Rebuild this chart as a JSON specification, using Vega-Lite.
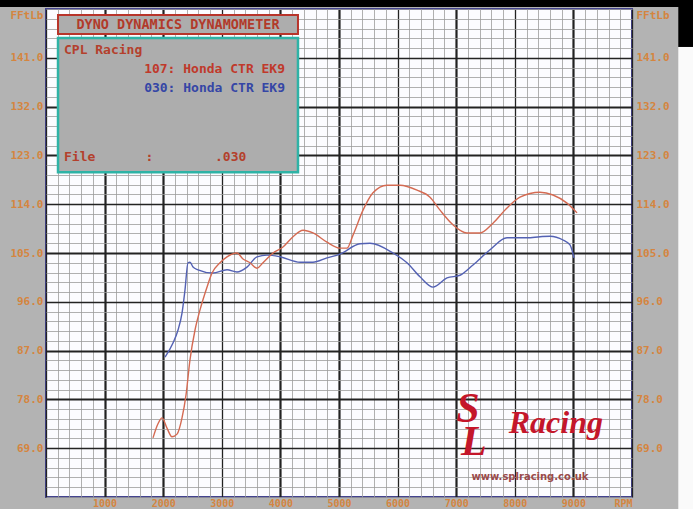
{
  "$schema": "https://vega.github.io/schema/vega-lite/v6.json",
  "width": 586,
  "height": 488,
  "autosize": {"type": "none"},
  "padding": {"left": 46, "top": 9, "right": 61, "bottom": 12},
  "background": "#b3b3b3",
  "config": {
    "view": {"fill": "#fcfcff", "stroke": "#43438f", "strokeWidth": 2},
    "axis": {"domain": false, "ticks": false, "labelFont": "DejaVu Sans Mono", "labelFontWeight": "bold", "labelFontSize": 11, "labelColor": "#d5853f", "title": null, "labelOverlap": false, "labelFlush": false}
  },
  "datasets": {
    "curves": [
      {"rpm": 2031, "tq": 85.8, "run": "030"},
      {"rpm": 2167, "tq": 88.4, "run": "030"},
      {"rpm": 2253, "tq": 90.8, "run": "030"},
      {"rpm": 2321, "tq": 93.9, "run": "030"},
      {"rpm": 2372, "tq": 98.2, "run": "030"},
      {"rpm": 2423, "tq": 103.2, "run": "030"},
      {"rpm": 2457, "tq": 103.3, "run": "030"},
      {"rpm": 2509, "tq": 102.4, "run": "030"},
      {"rpm": 2594, "tq": 101.9, "run": "030"},
      {"rpm": 2850, "tq": 101.3, "run": "030"},
      {"rpm": 3089, "tq": 101.9, "run": "030"},
      {"rpm": 3259, "tq": 101.5, "run": "030"},
      {"rpm": 3430, "tq": 102.4, "run": "030"},
      {"rpm": 3601, "tq": 104.3, "run": "030"},
      {"rpm": 3771, "tq": 104.6, "run": "030"},
      {"rpm": 3993, "tq": 104.3, "run": "030"},
      {"rpm": 4335, "tq": 103.3, "run": "030"},
      {"rpm": 4556, "tq": 103.3, "run": "030"},
      {"rpm": 4795, "tq": 104.1, "run": "030"},
      {"rpm": 5017, "tq": 104.8, "run": "030"},
      {"rpm": 5358, "tq": 106.7, "run": "030"},
      {"rpm": 5529, "tq": 106.8, "run": "030"},
      {"rpm": 5922, "tq": 105.0, "run": "030"},
      {"rpm": 6160, "tq": 103.2, "run": "030"},
      {"rpm": 6382, "tq": 100.6, "run": "030"},
      {"rpm": 6604, "tq": 98.7, "run": "030"},
      {"rpm": 6843, "tq": 100.4, "run": "030"},
      {"rpm": 7065, "tq": 100.9, "run": "030"},
      {"rpm": 7287, "tq": 102.8, "run": "030"},
      {"rpm": 7577, "tq": 105.6, "run": "030"},
      {"rpm": 7867, "tq": 107.8, "run": "030"},
      {"rpm": 8208, "tq": 107.8, "run": "030"},
      {"rpm": 8430, "tq": 108.0, "run": "030"},
      {"rpm": 8601, "tq": 108.1, "run": "030"},
      {"rpm": 8823, "tq": 107.4, "run": "030"},
      {"rpm": 8942, "tq": 106.5, "run": "030"},
      {"rpm": 9010, "tq": 104.1, "run": "030"},
      {"rpm": 1826, "tq": 70.9, "run": "107"},
      {"rpm": 1911, "tq": 73.5, "run": "107"},
      {"rpm": 1980, "tq": 74.6, "run": "107"},
      {"rpm": 2065, "tq": 72.7, "run": "107"},
      {"rpm": 2150, "tq": 71.1, "run": "107"},
      {"rpm": 2236, "tq": 71.6, "run": "107"},
      {"rpm": 2321, "tq": 74.6, "run": "107"},
      {"rpm": 2389, "tq": 78.8, "run": "107"},
      {"rpm": 2457, "tq": 85.3, "run": "107"},
      {"rpm": 2543, "tq": 90.8, "run": "107"},
      {"rpm": 2628, "tq": 94.5, "run": "107"},
      {"rpm": 2747, "tq": 98.7, "run": "107"},
      {"rpm": 2833, "tq": 101.3, "run": "107"},
      {"rpm": 2969, "tq": 103.2, "run": "107"},
      {"rpm": 3089, "tq": 104.3, "run": "107"},
      {"rpm": 3259, "tq": 105.0, "run": "107"},
      {"rpm": 3362, "tq": 103.9, "run": "107"},
      {"rpm": 3481, "tq": 103.2, "run": "107"},
      {"rpm": 3601, "tq": 102.2, "run": "107"},
      {"rpm": 3703, "tq": 103.2, "run": "107"},
      {"rpm": 3874, "tq": 105.0, "run": "107"},
      {"rpm": 4044, "tq": 106.1, "run": "107"},
      {"rpm": 4215, "tq": 108.0, "run": "107"},
      {"rpm": 4386, "tq": 109.2, "run": "107"},
      {"rpm": 4556, "tq": 108.7, "run": "107"},
      {"rpm": 4795, "tq": 107.0, "run": "107"},
      {"rpm": 5017, "tq": 105.9, "run": "107"},
      {"rpm": 5136, "tq": 105.9, "run": "107"},
      {"rpm": 5239, "tq": 108.3, "run": "107"},
      {"rpm": 5410, "tq": 112.9, "run": "107"},
      {"rpm": 5580, "tq": 116.1, "run": "107"},
      {"rpm": 5819, "tq": 117.5, "run": "107"},
      {"rpm": 6041, "tq": 117.5, "run": "107"},
      {"rpm": 6331, "tq": 116.6, "run": "107"},
      {"rpm": 6553, "tq": 115.3, "run": "107"},
      {"rpm": 6724, "tq": 112.9, "run": "107"},
      {"rpm": 6945, "tq": 110.2, "run": "107"},
      {"rpm": 7184, "tq": 108.7, "run": "107"},
      {"rpm": 7406, "tq": 108.7, "run": "107"},
      {"rpm": 7628, "tq": 110.5, "run": "107"},
      {"rpm": 7867, "tq": 113.3, "run": "107"},
      {"rpm": 8089, "tq": 115.3, "run": "107"},
      {"rpm": 8430, "tq": 116.2, "run": "107"},
      {"rpm": 8652, "tq": 115.7, "run": "107"},
      {"rpm": 8891, "tq": 114.2, "run": "107"},
      {"rpm": 9062, "tq": 112.4, "run": "107"}
    ]
  },
  "layer": [
    {
      "data": {"values": [{"x1": -800, "x2": 11100, "y1": 150.35, "y2": 152}, {"x1": 10790, "x2": 11100, "y1": 143, "y2": 152}]},
      "mark": {"type": "rect", "color": "#000000"},
      "encoding": {
        "x": {"field": "x1", "type": "quantitative", "scale": {"domain": [0, 10000], "nice": false, "zero": false},
          "axis": {
            "values": [0,200,400,600,800,1000,1200,1400,1600,1800,2000,2200,2400,2600,2800,3000,3200,3400,3600,3800,4000,4200,4400,4600,4800,5000,5200,5400,5600,5800,6000,6200,6400,6600,6800,7000,7200,7400,7600,7800,8000,8200,8400,8600,8800,9000,9200,9400,9600,9800,10000],
            "grid": true,
            "gridColor": {"condition": {"test": "datum.value % 1000 == 0", "value": "#222222"}, "value": "#9c9c9c"},
            "gridWidth": {"condition": [{"test": "indexof([1000,2000,4000,5000,7000,9000], datum.value) >= 0", "value": 2.2}, {"test": "datum.value % 1000 == 0", "value": 1.3}], "value": 0.8},
            "labelExpr": "datum.value == 10000 ? 'RPM' : (datum.value > 0 && datum.value % 1000 == 0 ? format(datum.value, 'd') : '')",
            "labelAlign": {"condition": {"test": "datum.value == 10000", "value": "right"}, "value": "center"},
            "labelPadding": 1,
            "labelFontSize": 10
          }
        },
        "x2": {"field": "x2"},
        "y": {"field": "y1", "type": "quantitative", "scale": {"domain": [60, 150], "nice": false, "zero": false},
          "axis": {
            "orient": "left",
            "values": [60,61.8,63.6,65.4,67.2,69,70.8,72.6,74.4,76.2,78,79.8,81.6,83.4,85.2,87,88.8,90.6,92.4,94.2,96,97.8,99.6,101.4,103.2,105,106.8,108.6,110.4,112.2,114,115.8,117.6,119.4,121.2,123,124.8,126.6,128.4,130.2,132,133.8,135.6,137.4,139.2,141,142.8,144.6,146.4,148.2,150],
            "grid": true,
            "gridColor": {"condition": {"test": "indexof([69,78,87,96,105,114,123,132,141], datum.value) >= 0", "value": "#222222"}, "value": "#9c9c9c"},
            "gridWidth": {"condition": [{"test": "indexof([78,87,105,123,132], datum.value) >= 0", "value": 2.2}, {"test": "indexof([69,96,114,141], datum.value) >= 0", "value": 1.3}], "value": 0.8},
            "labelExpr": "datum.value == 150 ? 'FFtLb' : (indexof([69,78,87,96,105,114,123,132,141], datum.value) >= 0 ? format(datum.value, '.1f') : '')",
            "labelBaseline": {"condition": {"test": "datum.value == 150", "value": "top"}, "value": "middle"},
            "labelPadding": 3
          }
        },
        "y2": {"field": "y2"}
      }
    },
    {
      "data": {"values": [{"x1": 10790, "x2": 11100, "y1": 57, "y2": 143}]},
      "mark": {"type": "rect", "color": "#fafafa"},
      "encoding": {
        "x": {"field": "x1", "type": "quantitative", "axis": null},
        "x2": {"field": "x2"},
        "y": {"field": "y1", "type": "quantitative",
          "axis": {
            "orient": "right",
            "values": [69,78,87,96,105,114,123,132,141,150],
            "grid": false,
            "labelExpr": "datum.value == 150 ? 'FFtLb' : format(datum.value, '.1f')",
            "labelBaseline": {"condition": {"test": "datum.value == 150", "value": "top"}, "value": "middle"},
            "labelPadding": 4
          }
        },
        "y2": {"field": "y2"}
      }
    },
    {
      "data": {"values": [{"x1": 205, "x2": 4300, "y1": 145.4, "y2": 148.9}]},
      "mark": {"type": "rect", "fill": "#adadad", "stroke": "#b8342a", "strokeWidth": 2},
      "encoding": {"x": {"field": "x1", "type": "quantitative", "axis": null}, "x2": {"field": "x2"}, "y": {"field": "y1", "type": "quantitative", "axis": null}, "y2": {"field": "y2"}}
    },
    {
      "data": {"values": [{"x1": 205, "x2": 4300, "y1": 119.9, "y2": 144.65}]},
      "mark": {"type": "rect", "fill": "#adadad", "stroke": "#2fb3a6", "strokeWidth": 2.5},
      "encoding": {"x": {"field": "x1", "type": "quantitative", "axis": null}, "x2": {"field": "x2"}, "y": {"field": "y1", "type": "quantitative", "axis": null}, "y2": {"field": "y2"}}
    },
    {
      "data": {"values": [{"x": 2253, "y": 147.1, "text": "DYNO DYNAMICS DYNAMOMETER"}]},
      "mark": {"type": "text", "font": "DejaVu Sans Mono", "fontWeight": "bold", "fontSize": 13.5, "color": "#b23a2a", "align": "center", "baseline": "middle"},
      "encoding": {"x": {"field": "x", "type": "quantitative", "axis": null}, "y": {"field": "y", "type": "quantitative", "axis": null}, "text": {"field": "text"}}
    },
    {
      "data": {"values": [
        {"x": 307, "y": 142.4, "text": "CPL Racing"},
        {"x": 307, "y": 122.7, "text": "File"},
        {"x": 1700, "y": 122.7, "text": ":"},
        {"x": 2884, "y": 122.7, "text": ".030"}
      ]},
      "mark": {"type": "text", "font": "DejaVu Sans Mono", "fontWeight": "bold", "fontSize": 13, "color": "#b4402c", "align": "left", "baseline": "middle"},
      "encoding": {"x": {"field": "x", "type": "quantitative", "axis": null}, "y": {"field": "y", "type": "quantitative", "axis": null}, "text": {"field": "text"}}
    },
    {
      "data": {"values": [{"x": 4079, "y": 138.9, "text": "107: Honda CTR EK9"}]},
      "mark": {"type": "text", "font": "DejaVu Sans Mono", "fontWeight": "bold", "fontSize": 13, "color": "#c0392b", "align": "right", "baseline": "middle"},
      "encoding": {"x": {"field": "x", "type": "quantitative", "axis": null}, "y": {"field": "y", "type": "quantitative", "axis": null}, "text": {"field": "text"}}
    },
    {
      "data": {"values": [{"x": 4079, "y": 135.4, "text": "030: Honda CTR EK9"}]},
      "mark": {"type": "text", "font": "DejaVu Sans Mono", "fontWeight": "bold", "fontSize": 13, "color": "#3546a6", "align": "right", "baseline": "middle"},
      "encoding": {"x": {"field": "x", "type": "quantitative", "axis": null}, "y": {"field": "y", "type": "quantitative", "axis": null}, "text": {"field": "text"}}
    },
    {
      "data": {"values": [{"x": 7200, "y": 76.3, "text": "S"}, {"x": 7300, "y": 70.2, "text": "L"}]},
      "mark": {"type": "text", "font": "Liberation Serif", "fontWeight": "bold", "fontStyle": "italic", "fontSize": 42, "color": "#c4162a", "align": "center", "baseline": "middle"},
      "encoding": {"x": {"field": "x", "type": "quantitative", "axis": null}, "y": {"field": "y", "type": "quantitative", "axis": null}, "text": {"field": "text"}}
    },
    {
      "data": {"values": [{"x": 8700, "y": 73.6, "text": "Racing"}]},
      "mark": {"type": "text", "font": "Liberation Serif", "fontWeight": "bold", "fontStyle": "italic", "fontSize": 32, "color": "#c4162a", "align": "center", "baseline": "middle"},
      "encoding": {"x": {"field": "x", "type": "quantitative", "axis": null}, "y": {"field": "y", "type": "quantitative", "axis": null}, "text": {"field": "text"}}
    },
    {
      "data": {"values": [{"x": 8259, "y": 63.7, "text": "www.splracing.co.uk"}]},
      "mark": {"type": "text", "font": "DejaVu Sans", "fontWeight": "bold", "fontSize": 10, "color": "#9a4a4a", "align": "center", "baseline": "middle"},
      "encoding": {"x": {"field": "x", "type": "quantitative", "axis": null}, "y": {"field": "y", "type": "quantitative", "axis": null}, "text": {"field": "text"}}
    },
    {
      "data": {"name": "curves"},
      "mark": {"type": "line", "strokeWidth": 1.4, "interpolate": "monotone"},
      "encoding": {
        "x": {"field": "rpm", "type": "quantitative", "axis": null},
        "y": {"field": "tq", "type": "quantitative", "axis": null},
        "color": {"field": "run", "type": "nominal", "scale": {"domain": ["107", "030"], "range": ["#d46a52", "#5361b3"]}, "legend": null}
      }
    }
  ],
  "resolve": {"axis": {"x": "independent", "y": "independent"}}
}
